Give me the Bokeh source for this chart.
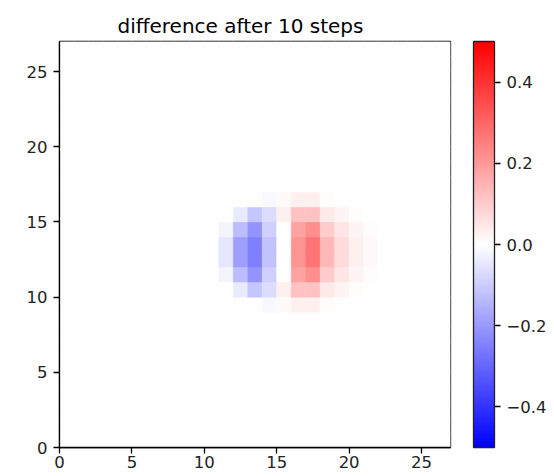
from bokeh.plotting import figure
from bokeh.layouts import row
from bokeh.models import (LinearColorMapper, ColorBar, FixedTicker, CustomJSTickFormatter,
                          ColumnDataSource)
from bokeh.transform import linear_cmap
from bokeh.embed import file_html
from bokeh.resources import INLINE

# ---- data ----
grid_size = 27
background_value = 0.002
blob_cols = [11, 12, 13, 14, 15, 16, 17, 18, 19, 20, 21]
blob_rows = [9, 10, 11, 12, 13, 14, 15, 16]
row_9 = [0.0, 0.0, 0.0, -0.015, 0.008, 0.03, 0.03, 0.005, 0.0, 0.0, 0.0]
row_10 = [0.0, -0.04, -0.11, -0.07, 0.03, 0.12, 0.12, 0.04, 0.02, 0.005, 0.0]
row_11 = [-0.02, -0.13, -0.21, -0.09, 0.0, 0.18, 0.22, 0.10, 0.05, 0.02, 0.005]
row_12 = [-0.05, -0.19, -0.25, -0.12, 0.0, 0.21, 0.27, 0.14, 0.07, 0.03, 0.01]
row_13 = [-0.05, -0.19, -0.25, -0.12, 0.0, 0.21, 0.27, 0.14, 0.07, 0.03, 0.01]
row_14 = [-0.02, -0.13, -0.21, -0.09, 0.0, 0.18, 0.22, 0.10, 0.05, 0.02, 0.005]
row_15 = [0.0, -0.04, -0.11, -0.07, 0.03, 0.12, 0.12, 0.04, 0.02, 0.005, 0.0]
row_16 = [0.0, 0.0, 0.0, -0.015, 0.008, 0.03, 0.03, 0.005, 0.0, 0.0, 0.0]
blob_values = [row_9, row_10, row_11, row_12, row_13, row_14, row_15, row_16]
x_ticks = [0, 5, 10, 15, 20, 25]
y_ticks = [0, 5, 10, 15, 20, 25]
cbar_ticks = [-0.4, -0.2, 0.0, 0.2, 0.4]
vmin, vmax = -0.5, 0.5
title_text = "difference after 10 steps"

# bwr colormap palette
def bwr(n=256):
    pal = []
    for i in range(n):
        t = i / (n - 1)
        if t <= 0.5:
            s = t / 0.5
            r, g, b = s, s, 1.0
        else:
            s = (t - 0.5) / 0.5
            r, g, b = 1.0, 1.0 - s, 1.0 - s
        pal.append("#%02x%02x%02x" % (round(r * 255), round(g * 255), round(b * 255)))
    return pal

palette = bwr()

# build cells
lookup = {}
for r, vals in zip(blob_rows, blob_values):
    for c, v in zip(blob_cols, vals):
        lookup[(r, c)] = v
left, right, bottom, top, vv = [], [], [], [], []
for r in range(grid_size):
    for c in range(grid_size):
        left.append(c)
        right.append(c + 1)
        bottom.append(r)
        top.append(r + 1)
        vv.append(lookup.get((r, c), background_value))
src = ColumnDataSource(dict(left=left, right=right, bottom=bottom, top=top, v=vv))

FONT = "DejaVu Sans"
TICK_FS = "16.5px"
TEXT_C = "#222222"

p = figure(frame_width=391, frame_height=406, x_range=(0, grid_size), y_range=(0, grid_size),
           output_backend="svg", toolbar_location=None,
           min_border_left=59, min_border_top=41, min_border_bottom=29, min_border_right=3)
p.title.text = title_text
p.title.align = "left"
p.title.offset = 58
p.title.standoff = 8
p.title.text_font = FONT
p.title.text_font_size = "20px"
p.title.text_font_style = "normal"
p.title.text_color = "black"

cmap = linear_cmap("v", palette, vmin, vmax)
p.quad(left="left", right="right", bottom="bottom", top="top", source=src,
       fill_color=cmap, line_color=cmap, line_width=0.5)

p.xgrid.visible = False
p.ygrid.visible = False
p.outline_line_color = "black"
p.outline_line_width = 1.3
p.outline_line_alpha = 1
p.background_fill_color = "white"

for ax, ticks in ((p.xaxis[0], x_ticks), (p.yaxis[0], y_ticks)):
    ax.ticker = FixedTicker(ticks=ticks)
    ax.minor_tick_line_color = None
    ax.major_tick_in = 0
    ax.major_tick_out = 6
    ax.major_tick_line_color = "black"
    ax.major_tick_line_width = 1.3
    ax.axis_line_color = "black"
    ax.axis_line_width = 1.3
    ax.major_label_text_font = FONT
    ax.major_label_text_font_size = TICK_FS
    ax.major_label_text_color = TEXT_C
p.xaxis[0].major_label_standoff = 2
p.yaxis[0].major_label_standoff = 6

# colour bar in its own narrow figure
cbf = figure(frame_width=1, frame_height=406, x_range=(0, 1), y_range=(0, 1),
             output_backend="svg", toolbar_location=None,
             x_axis_type=None, y_axis_type=None,
             min_border_left=19, min_border_top=41, min_border_bottom=29, min_border_right=0)
cbf.outline_line_color = None
cbf.xgrid.visible = False
cbf.ygrid.visible = False
cbf.background_fill_alpha = 0
cbf.border_fill_alpha = 0

mapper = LinearColorMapper(palette=palette, low=vmin, high=vmax)
fmt = CustomJSTickFormatter(code="""
const s = Math.abs(tick).toFixed(1);
return tick < -1e-9 ? "\\u2212" + s : s;
""")
cb = ColorBar(color_mapper=mapper, ticker=FixedTicker(ticks=cbar_ticks), formatter=fmt,
              width=21, padding=0, margin=0,
              bar_line_color="#222222", bar_line_width=1.3,
              major_tick_out=6, major_tick_in=0, major_tick_line_color="black",
              major_tick_line_width=1.3,
              minor_tick_line_color=None,
              label_standoff=6,
              major_label_text_font=FONT, major_label_text_font_size=TICK_FS,
              major_label_text_color=TEXT_C,
              background_fill_alpha=0, border_line_color=None)
cbf.add_layout(cb, "right")

layout = row(p, cbf)
open("out.html", "w").write(file_html(layout, INLINE))
